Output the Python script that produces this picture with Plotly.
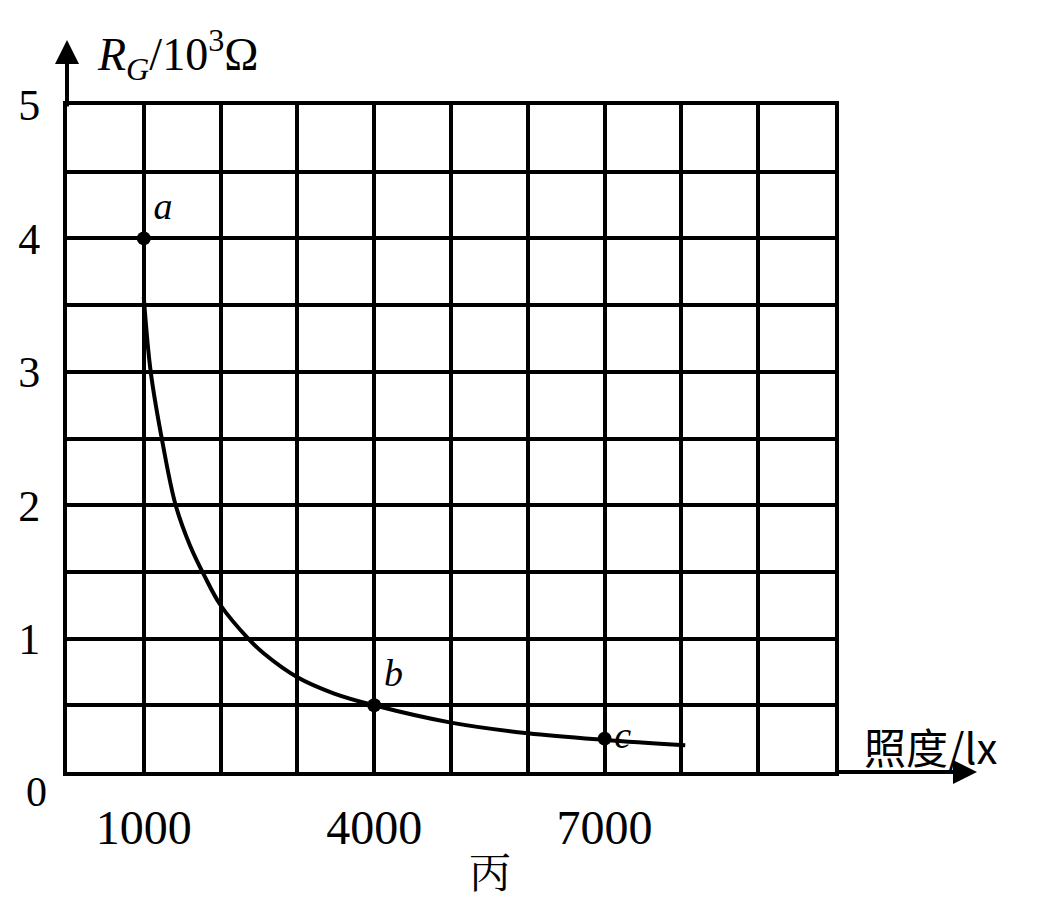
import plotly.graph_objects as go

# curve data (illuminance in lx, resistance in 10^3 ohm)
curve_E = [1000, 1090, 1250, 1415, 1600, 1790, 2000, 2360, 2560, 3000, 3470, 4000, 5000, 6000, 7000, 8050]
curve_R = [3.56, 3.0, 2.45, 2.0, 1.7, 1.47, 1.25, 1.0, 0.89, 0.71, 0.59, 0.5, 0.37, 0.29, 0.24, 0.2]

# labelled points
pt_labels = ["a", "b", "c"]
pt_E = [1000, 4000, 7000]
pt_R = [4.0, 0.5, 0.25]

x_tickvals = [1000, 4000, 7000]
x_ticktext = ["1000", "4000", "7000"]
y_tickvals = [1, 2, 3, 4, 5]
y_ticktext = ["1", "2", "3", "4", "5"]

serif = "Liberation Serif, Times New Roman, serif"

fig = go.Figure()
fig.add_trace(go.Scatter(
    x=curve_E, y=curve_R, mode="lines",
    line=dict(color="black", width=4, shape="spline", smoothing=1.0),
    hoverinfo="skip", showlegend=False, cliponaxis=False))
fig.add_trace(go.Scatter(
    x=pt_E, y=pt_R, mode="markers+text",
    marker=dict(color="black", size=14),
    text=["<i>%s</i>" % t for t in pt_labels],
    textposition=["top right", "top right", "middle right"],
    textfont=dict(family=serif, size=38, color="black"),
    showlegend=False, cliponaxis=False))

W, H = 1029, 891
ml, mt = 59, 97
pw, ph = 768, 667
mr, mb = W - ml - pw, H - mt - ph
X0, Y0 = 67, 772  # reference-pixel position of the plot origin

grid = dict(showgrid=True, gridcolor="black", gridwidth=4)

fig.update_layout(
    width=W, height=H,
    margin=dict(l=ml, r=mr, t=mt, b=mb, autoexpand=False),
    plot_bgcolor="white", paper_bgcolor="white",
    xaxis=dict(range=[0, 10000], automargin=False,
               showline=True, linecolor="black", linewidth=4, mirror=True,
               zeroline=False, ticks="", showgrid=False,
               tickmode="array", tickvals=x_tickvals, ticktext=x_ticktext,
               tickfont=dict(family=serif, size=48, color="black"),
               ticklabelstandoff=10,
               minor=dict(dtick=1000, tick0=0, **grid)),
    yaxis=dict(range=[0, 5], automargin=False,
               showline=True, linecolor="black", linewidth=4, mirror=True,
               zeroline=False, ticks="", showgrid=False,
               tickmode="array", tickvals=y_tickvals, ticktext=y_ticktext,
               tickfont=dict(family=serif, size=44, color="black"),
               ticklabelstandoff=14,
               minor=dict(dtick=0.5, tick0=0, **grid)),
)

def px(x):
    return (x - X0) / pw

def py(y):
    return (Y0 - y) / ph

# axis arrows
fig.add_annotation(xref="paper", yref="paper", x=0, y=py(40),
                   ax=0, ay=68, showarrow=True, arrowhead=2, arrowsize=1.2,
                   arrowwidth=4, arrowcolor="black", text="")
fig.add_annotation(xref="paper", yref="paper", x=px(977), y=0,
                   ax=-142, ay=0, showarrow=True, arrowhead=2, arrowsize=1.2,
                   arrowwidth=4, arrowcolor="black", text="")

# labels
fig.add_annotation(xref="paper", yref="paper", x=px(95), y=py(55),
                   xanchor="left", yanchor="middle", showarrow=False,
                   text="<i>R</i><sub><i>G</i></sub>/10<sup>3</sup>Ω",
                   font=dict(family=serif, size=46, color="black"))
fig.add_annotation(xref="paper", yref="paper", x=px(862), y=py(745),
                   xanchor="left", yanchor="middle", showarrow=False,
                   text="照度/lx",
                   font=dict(family="Noto Sans CJK SC, serif", size=42, color="black"))
fig.add_annotation(xref="paper", yref="paper", x=px(36), y=py(792),
                   xanchor="center", yanchor="middle", showarrow=False,
                   text="0", font=dict(family=serif, size=42, color="black"))
fig.add_annotation(xref="paper", yref="paper", x=px(490), y=py(870),
                   xanchor="center", yanchor="middle", showarrow=False,
                   text="丙", font=dict(family="Noto Serif CJK SC, Noto Sans CJK SC, serif", size=42, color="black"))

fig.write_html("out.html")
